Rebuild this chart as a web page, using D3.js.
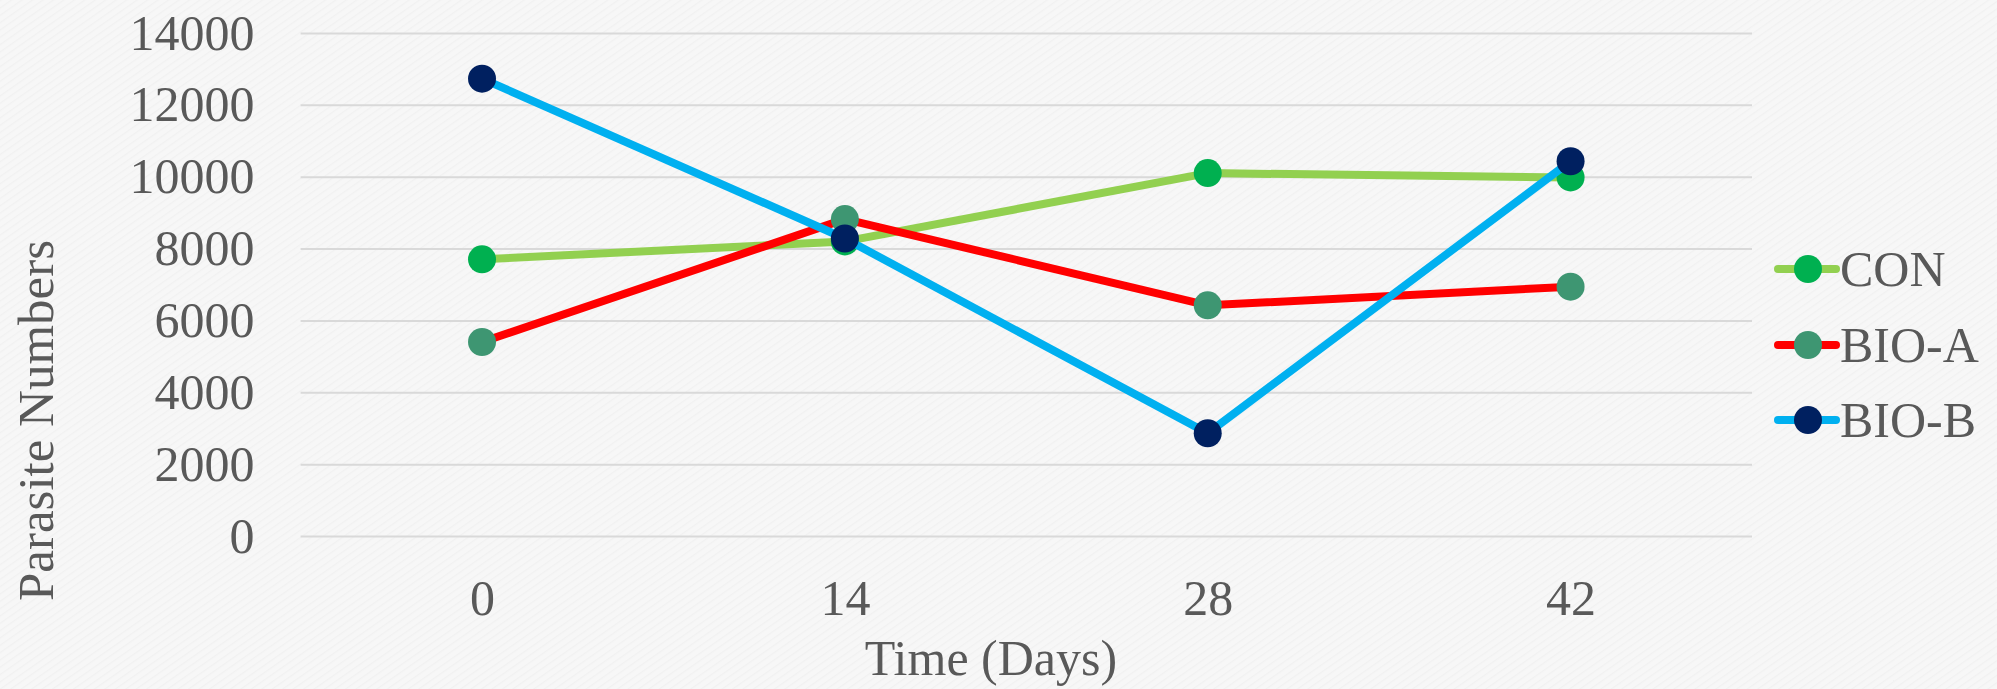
<!DOCTYPE html>
<html>
<head>
<meta charset="utf-8">
<script src="https://cdn.jsdelivr.net/npm/d3@7"></script>
<style>
  html, body { margin: 0; padding: 0; background: #f6f6f6; }
  svg { display: block; }
  text { font-family: "Liberation Serif", "DejaVu Serif", serif; fill: #595959; }
</style>
</head>
<body>
<script>
// Sampling days and parasite counts per treatment group
const days = [0, 14, 28, 42];
const conValues  = [7700, 8200, 10100, 9980];
const bioAValues = [5400, 8820, 6420, 6940];
const bioBValues = [12730, 8280, 2860, 10430];
const yTicks = [0, 2000, 4000, 6000, 8000, 10000, 12000, 14000];

const seriesNames = ["CON", "BIO-A", "BIO-B"];
const lineColors = ["#92D050", "#FF0000", "#00B0F0"];
const markerColors = ["#00B050", "#3E9672", "#002060"];

const series = [conValues, bioAValues, bioBValues].map((vals, i) => ({
  name: seriesNames[i],
  line: lineColors[i],
  marker: markerColors[i],
  points: days.map((d, j) => ({ day: d, value: vals[j] }))
}));

const W = 1997, H = 689;
const plot = { left: 300.6, right: 1752, top: 33, bottom: 536 };
const fontSize = 50;

const svg = d3.select("body").append("svg")
  .attr("width", W).attr("height", H);

// Textured paper-like background
const defs = svg.append("defs");
const pat = defs.append("pattern")
  .attr("id", "paper").attr("width", 6).attr("height", 6)
  .attr("patternUnits", "userSpaceOnUse")
  .attr("patternTransform", "rotate(-35)");
pat.append("rect").attr("width", 6).attr("height", 6).attr("fill", "#f7f7f7");
pat.append("rect").attr("width", 6).attr("height", 1.2).attr("fill", "#f1f1f1");
svg.append("rect").attr("width", W).attr("height", H).attr("fill", "url(#paper)");

const x = d3.scalePoint().domain(days).range([plot.left, plot.right]).padding(0.5);
const y = d3.scaleLinear().domain([0, 14000]).range([plot.bottom, plot.top]);

// Y axis with horizontal gridlines
const yAxis = svg.append("g")
  .attr("transform", `translate(${plot.left},0)`)
  .call(d3.axisLeft(y).tickValues(yTicks)
    .tickSize(-(plot.right - plot.left)).tickPadding(46)
    .tickFormat(d3.format("d")));
yAxis.select(".domain").remove();
yAxis.selectAll(".tick line").attr("stroke", "#d9d9d9").attr("stroke-width", 2);
yAxis.selectAll(".tick text")
  .attr("font-size", fontSize).attr("fill", "#595959")
  .attr("font-family", "Liberation Serif, DejaVu Serif, serif");

// X axis labels
const xAxis = svg.append("g")
  .attr("transform", `translate(0,${plot.bottom})`)
  .call(d3.axisBottom(x).tickSize(0).tickPadding(43));
xAxis.select(".domain").remove();
xAxis.selectAll(".tick text")
  .attr("font-size", fontSize).attr("fill", "#595959")
  .attr("font-family", "Liberation Serif, DejaVu Serif, serif");

// Axis titles
svg.append("text")
  .attr("x", 991)
  .attr("y", 675)
  .attr("text-anchor", "middle")
  .attr("font-size", fontSize)
  .text("Time (Days)");

svg.append("text")
  .attr("transform", `translate(53,${(plot.top + plot.bottom) / 2 + 136}) rotate(-90)`)
  .attr("text-anchor", "middle")
  .attr("font-size", 51)
  .text("Parasite Numbers");

// Lines and markers, drawn series by series
const line = d3.line().x(d => x(d.day)).y(d => y(d.value));
const r = 14;

series.forEach(s => {
  const g = svg.append("g");
  g.append("path")
    .datum(s.points)
    .attr("d", line)
    .attr("fill", "none")
    .attr("stroke", s.line)
    .attr("stroke-width", 8)
    .attr("stroke-linejoin", "round");
  g.selectAll("circle")
    .data(s.points)
    .join("circle")
    .attr("cx", d => x(d.day))
    .attr("cy", d => y(d.value))
    .attr("r", r)
    .attr("fill", s.marker);
});

// Legend
const legend = svg.append("g").attr("transform", "translate(1778,0)");
const legendRows = [269, 345, 420];
series.forEach((s, i) => {
  const g = legend.append("g").attr("transform", `translate(0,${legendRows[i]})`);
  g.append("line")
    .attr("x1", 0).attr("x2", 58)
    .attr("stroke", s.line).attr("stroke-width", 8)
    .attr("stroke-linecap", "round");
  g.append("circle").attr("cx", 30).attr("r", r).attr("fill", s.marker);
  g.append("text")
    .attr("x", 62).attr("y", 0).attr("dy", "0.33em")
    .attr("font-size", fontSize)
    .text(s.name);
});
</script>
</body>
</html>
